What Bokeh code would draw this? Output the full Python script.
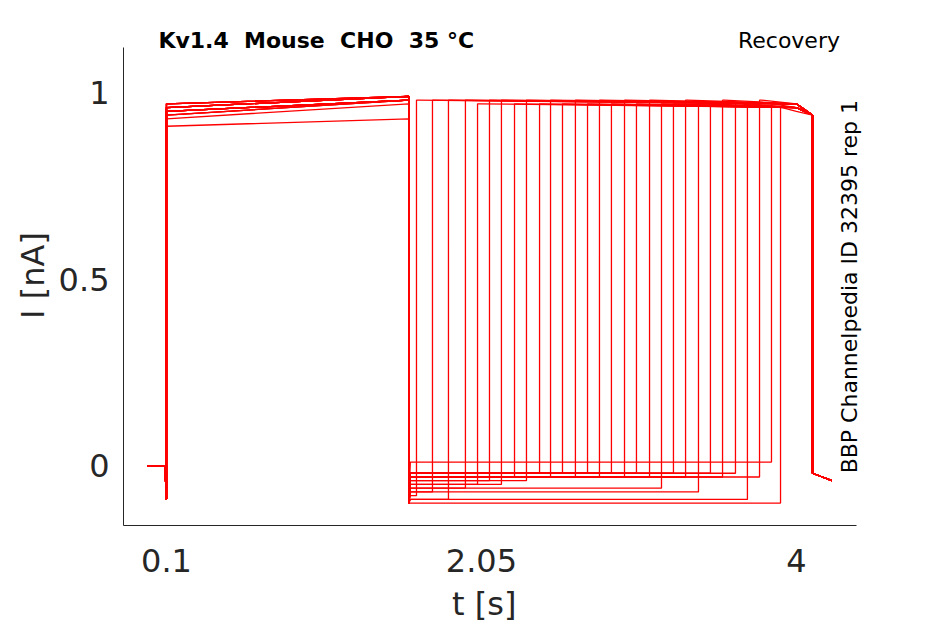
import numpy as np
from bokeh.plotting import figure
from bokeh.models import Label, FixedTicker, Range1d
from bokeh.embed import file_html
from bokeh.resources import INLINE

onsets = [1.648,1.747,1.846,1.951,2.026,2.1,2.174,2.255,2.329,2.41,2.478,2.552,2.632,2.707,2.781,
          2.855,2.936,3.01,3.091,3.165,3.239,3.314,3.394,3.468,3.543,3.623,3.697,3.772,3.846,3.902]
peak1_start = [0.95,0.96,0.94,0.97,0.95,0.96,0.93,0.96,0.97,0.95,0.94,0.96,0.95,0.97,0.96,
               0.95,0.96,0.94,0.97,0.95,0.96,0.95,0.96,0.97,0.95,0.96,0.91,0.95,0.96,0.97]
peak1_end = [0.98,0.99,0.98,0.99,0.98,0.99,0.97,0.99,0.99,0.98,0.98,0.99,0.98,0.99,0.99,
             0.98,0.99,0.98,0.99,0.98,0.99,0.98,0.99,0.99,0.98,0.99,0.93,0.98,0.99,0.99]
trough = [-0.08,-0.07,-0.09,-0.06,-0.05,-0.04,-0.05,-0.03,-0.04,-0.02,-0.03,-0.02,-0.03,-0.02,-0.03,
          -0.02,-0.03,-0.02,-0.03,-0.06,-0.02,-0.03,-0.07,-0.02,-0.03,-0.02,-0.09,-0.03,0.01,-0.1]
peak2 = [0.98,0.98,0.98,0.98,0.97,0.98,0.98,0.97,0.98,0.97,0.98,0.97,0.98,0.97,0.98,
         0.97,0.98,0.97,0.98,0.97,0.97,0.98,0.97,0.97,0.98,0.97,0.97,0.98,0.97,0.96]

p = figure(width=929, height=625, output_backend="svg", toolbar_location=None,
           x_range=Range1d(-0.166, 4.49), y_range=Range1d(-0.16, 1.18),
           min_border_left=123, min_border_top=25, min_border_right=54, min_border_bottom=82)
p.outline_line_color = None
p.grid.visible = False

for i, t in enumerate(onsets):
    xs = [-0.02, 0.09, 0.1, 0.1, 0.1, 1.6, 1.6, 1.61, t, t, t + 0.01, 4.0, 4.1, 4.1, 4.22]
    ys = [0.0, 0.0, -0.09, 0.0, peak1_start[i], peak1_end[i], -0.1, trough[i], trough[i],
          peak2[i], peak2[i], peak2[i] - 0.01, 0.94, -0.02, -0.04]
    p.line(xs, ys, line_color="red", line_width=1.3)

p.xaxis.ticker = FixedTicker(ticks=[0.1, 2.05, 4])
p.xaxis.major_label_overrides = {0.1: "0.1", 2.05: "2.05", 4: "4"}
p.xaxis.bounds = (-0.166, 4.37)
p.yaxis.ticker = FixedTicker(ticks=[0, 0.5, 1])
p.yaxis.major_label_overrides = {0: "0", 0.5: "0.5", 1: "1"}
p.yaxis.bounds = (-0.16, 1.12)
for ax in (p.xaxis[0], p.yaxis[0]):
    ax.major_tick_line_color = None
    ax.minor_tick_line_color = None
    ax.major_label_text_font_size = "24pt"
    ax.major_label_text_color = "#262626"
    ax.axis_label_text_font_size = "24pt"
    ax.axis_label_text_font_style = "normal"
    ax.axis_label_text_color = "#262626"
    ax.axis_line_color = "#262626"
    ax.major_label_text_font = "DejaVu Sans"
    ax.axis_label_text_font = "DejaVu Sans"
p.xaxis.major_label_standoff = 17
p.xaxis.axis_label_standoff = 10
p.yaxis.major_label_standoff = 8
p.yaxis.axis_label_standoff = 4
p.xaxis.axis_label = "t [s]\u00a0\u00a0\u00a0"
p.yaxis.axis_label = "I [nA]"

p.add_layout(Label(x=0.05, y=1.139, text="Kv1.4\u00a0\u00a0Mouse\u00a0\u00a0CHO\u00a0\u00a035 °C",
                   text_font_style="bold", text_color="black",
                   text_font_size="16.5pt", text_font="DejaVu Sans", text_baseline="middle"))
p.add_layout(Label(x=4.27, y=1.139, text="Recovery", text_align="right", text_color="black",
                   text_font_size="16.5pt", text_font="DejaVu Sans", text_baseline="middle"))
p.add_layout(Label(x=4.33, y=0.48, text="BBP Channelpedia ID 32395 rep 1", angle=np.pi/2,
                   text_align="center", text_baseline="middle", text_color="black",
                   text_font_size="16.5pt", text_font="DejaVu Sans", level="overlay"))

open("out.html", "w").write(file_html(p, INLINE))
